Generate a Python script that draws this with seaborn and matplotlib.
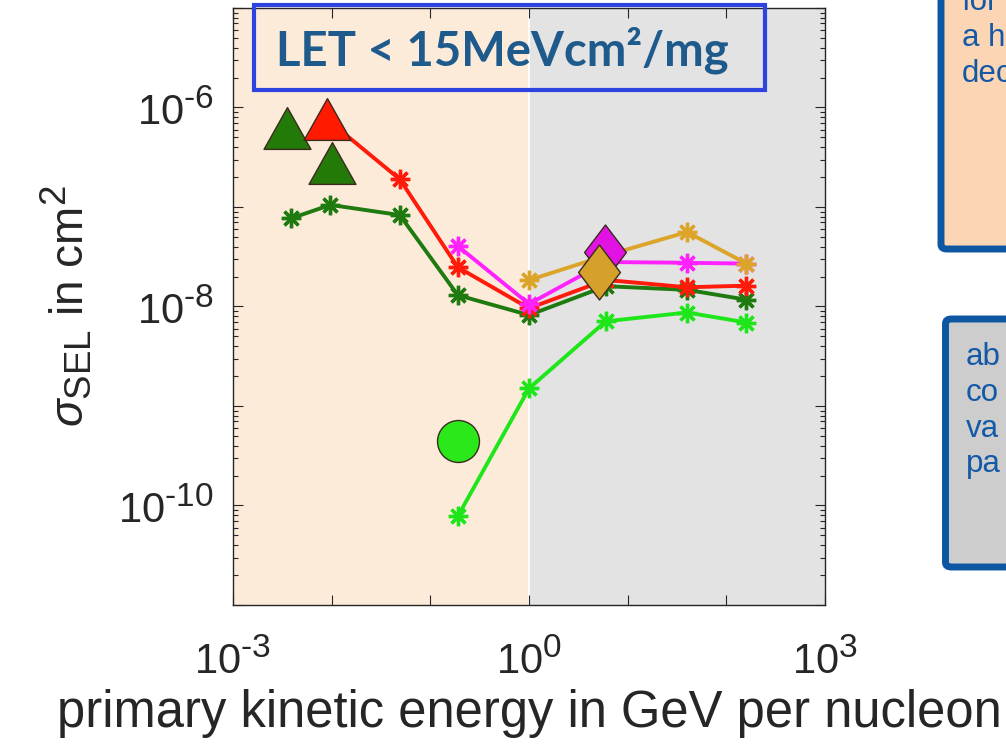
import numpy as np
import pandas as pd
import matplotlib
matplotlib.use("Agg")
import matplotlib.pyplot as plt
import matplotlib._mathtext as _mt
import seaborn as sns
from matplotlib.path import Path
from matplotlib.patches import Rectangle, FancyBboxPatch
from matplotlib.ticker import FixedLocator, FuncFormatter, LogLocator, NullFormatter

# ---------------- data ----------------
dkgreen_x = [0.0039, 0.0097, 0.049, 0.19, 1.0, 6.0, 40.0, 160.0]
dkgreen_y = [7.7e-8, 1.05e-7, 8.3e-8, 1.3e-8, 8.2e-9, 1.6e-8, 1.47e-8, 1.17e-8]

red_x = [0.009, 0.049, 0.19, 1.0, 6.0, 40.0, 160.0]
red_y = [7.6e-7, 1.9e-7, 2.48e-8, 9.6e-9, 1.85e-8, 1.56e-8, 1.62e-8]

magenta_x = [0.19, 1.0, 6.0, 40.0, 160.0]
magenta_y = [4.05e-8, 1.06e-8, 2.8e-8, 2.75e-8, 2.7e-8]

gold_x = [1.0, 6.0, 40.0, 160.0]
gold_y = [1.84e-8, 3.25e-8, 5.6e-8, 2.7e-8]

ltgreen_x = [0.19, 1.0, 6.0, 40.0, 160.0]
ltgreen_y = [7.8e-11, 1.5e-9, 7.1e-9, 8.7e-9, 6.9e-9]

tri_green_x = [0.00356, 0.0100]
tri_green_y = [6.2e-7, 2.78e-7]
tri_red_x = [0.0089]
tri_red_y = [7.67e-7]
dia_magenta_x = [5.9]
dia_magenta_y = [3.55e-8]
dia_gold_x = [5.15]
dia_gold_y = [2.2e-8]
circ_green_x = [0.19]
circ_green_y = [4.5e-10]

x_label_ticks = [1e-3, 1e0, 1e3]
y_label_ticks = [1e-10, 1e-8, 1e-6]

title_text = "LET < 15MeVcm\u00b2/mg"
box1_lines = ["for", "a h", "dec"]
box2_lines = ["ab", "co", "va", "pa"]

# ---------------- style ----------------
_mt.SHRINK_FACTOR = 0.8  # larger sub/superscripts, like the reference
sns.set_style("ticks")
plt.rcParams["font.family"] = ["Liberation Sans", "DejaVu Sans"]
plt.rcParams["mathtext.fontset"] = "custom"
plt.rcParams["mathtext.rm"] = "Liberation Sans"
plt.rcParams["mathtext.it"] = "Liberation Sans:italic"
plt.rcParams["mathtext.bf"] = "Liberation Sans:bold"

fig = plt.figure(figsize=(10.06, 7.49), dpi=100)
ax = fig.add_axes([0.23161, 0.19226, 0.58847, 0.79706])
ax.set_xscale("log")
ax.set_yscale("log")
ax.set_xlim(1e-3, 1e3)
ax.set_ylim(1e-11, 1e-5)

# background regions
ax.axvspan(1e-3, 1.0, color="#FDEBDA", zorder=0, lw=0)
ax.axvspan(1.0, 1e3, color="#E3E3E3", zorder=0, lw=0)
ax.axvline(1.0, color="white", lw=1.2, zorder=0.5)

star = (8, 2, 0)
lkw = dict(lw=2.8, marker=star, markersize=14, markeredgewidth=2.4, zorder=3)

def series(xs, ys, color):
    df = pd.DataFrame({"x": xs, "y": ys})
    sns.lineplot(data=df, x="x", y="y", ax=ax, color=color,
                 markeredgecolor=color, sort=False, estimator=None, **lkw)

series(ltgreen_x, ltgreen_y, "#1FE61A")
series(dkgreen_x, dkgreen_y, "#1F7A10")
series(red_x, red_y, "#FF1A0A")
series(magenta_x, magenta_y, "#FF22FF")
series(gold_x, gold_y, "#DCA52A")

tri = Path([(0, 0.89), (-1, -0.89), (1, -0.89), (0, 0.89)],
           [Path.MOVETO, Path.LINETO, Path.LINETO, Path.CLOSEPOLY])
dia = Path([(0, 1), (0.76, 0), (0, -1), (-0.76, 0), (0, 1)],
           [Path.MOVETO, Path.LINETO, Path.LINETO, Path.LINETO, Path.CLOSEPOLY])
ekw = dict(edgecolor="#3B2A1F", linewidth=1.0, zorder=5, legend=False)

sns.scatterplot(x=tri_green_x, y=tri_green_y, marker=tri, s=33.8**2, color="#247A08", ax=ax, **ekw)
sns.scatterplot(x=tri_red_x, y=tri_red_y, marker=tri, s=33.8**2, color="#FF1A00", ax=ax, **ekw)
sns.scatterplot(x=dia_magenta_x, y=dia_magenta_y, marker=dia, s=39.6**2, color="#E212E2", ax=ax, **ekw)
sns.scatterplot(x=dia_gold_x, y=dia_gold_y, marker=dia, s=39.6**2, color="#D6A12B", ax=ax, **ekw)
sns.scatterplot(x=circ_green_x, y=circ_green_y, marker="o", s=30.2**2, color="#2BE81A", ax=ax, **ekw)

# ticks
ax.xaxis.set_major_locator(FixedLocator([10.0**k for k in range(-3, 4)]))
ax.xaxis.set_minor_locator(FixedLocator([]))
ax.yaxis.set_major_locator(FixedLocator([10.0**k for k in range(-11, -4)]))
ax.yaxis.set_minor_locator(LogLocator(base=10, subs=np.arange(2, 10), numticks=20))
ax.yaxis.set_minor_formatter(NullFormatter())

def fmt_factory(keep):
    def f(v, pos):
        for k in keep:
            if abs(np.log10(v) - np.log10(k)) < 1e-6:
                e = int(round(np.log10(k)))
                s = "\\text{-}%d" % abs(e) if e < 0 else "%d" % e
                return r"$\mathregular{10^{%s}}$" % s
        return ""
    return f

ax.xaxis.set_major_formatter(FuncFormatter(fmt_factory(x_label_ticks)))
ax.yaxis.set_major_formatter(FuncFormatter(fmt_factory(y_label_ticks)))
ax.tick_params(which="both", direction="in", top=True, right=True, color="#262626", width=0.8)
ax.tick_params(which="major", length=7, labelsize=30, labelcolor="#262626")
ax.tick_params(axis="x", which="major", pad=25)
ax.tick_params(axis="y", which="major", pad=14)
ax.tick_params(which="minor", length=3.5)
for sp in ax.spines.values():
    sp.set_color("#262626")
    sp.set_linewidth(1.0)
    sp.set_zorder(6)

ax.set_xlabel("primary kinetic energy in GeV per nucleon", fontsize=36.5, color="#262626", labelpad=4)
ax.set_ylabel(r"$\sigma_{\mathrm{SEL}}$ in cm$^2$", fontsize=33, color="#262626", labelpad=17)

# title box
ax.add_patch(Rectangle((0.035, 0.8626), 0.864, 0.142, transform=ax.transAxes, fill=False,
                       edgecolor="#2E44E0", lw=3, clip_on=False, zorder=7))
ax.text(0.4545, 0.9045, title_text, transform=ax.transAxes, ha="center", va="baseline",
        fontsize=34, fontweight="bold", family=["Lato", "DejaVu Sans"], color="#1E5A8C", zorder=8)

# right side text boxes (clipped by figure edge)
W, H = 1006.0, 749.0
b1 = FancyBboxPatch((941 / W, 1 - 249 / H), 0.2, 0.5, transform=fig.transFigure,
                    boxstyle="round,pad=0,rounding_size=0.006", facecolor="#FCD5B4",
                    edgecolor="#0C56A2", lw=5, figure=fig)
fig.patches.append(b1)
b2 = FancyBboxPatch((945.5 / W, 1 - 567 / H), 0.2, (567 - 319) / H, transform=fig.transFigure,
                    boxstyle="round,pad=0,rounding_size=0.006", facecolor="#CDCDCD",
                    edgecolor="#0C56A2", lw=5, figure=fig)
fig.patches.append(b2)
for txt, base in zip(box1_lines, [10, 46, 81.7]):
    fig.text(962 / W, 1 - base / H, txt, fontsize=22.5, color="#1459A6", va="baseline", ha="left")
for txt, base in zip(box2_lines, [365, 401, 436.7, 472.4]):
    fig.text(966 / W, 1 - base / H, txt, fontsize=22.5, color="#1459A6", va="baseline", ha="left")

fig.savefig("out.png", dpi=100)
